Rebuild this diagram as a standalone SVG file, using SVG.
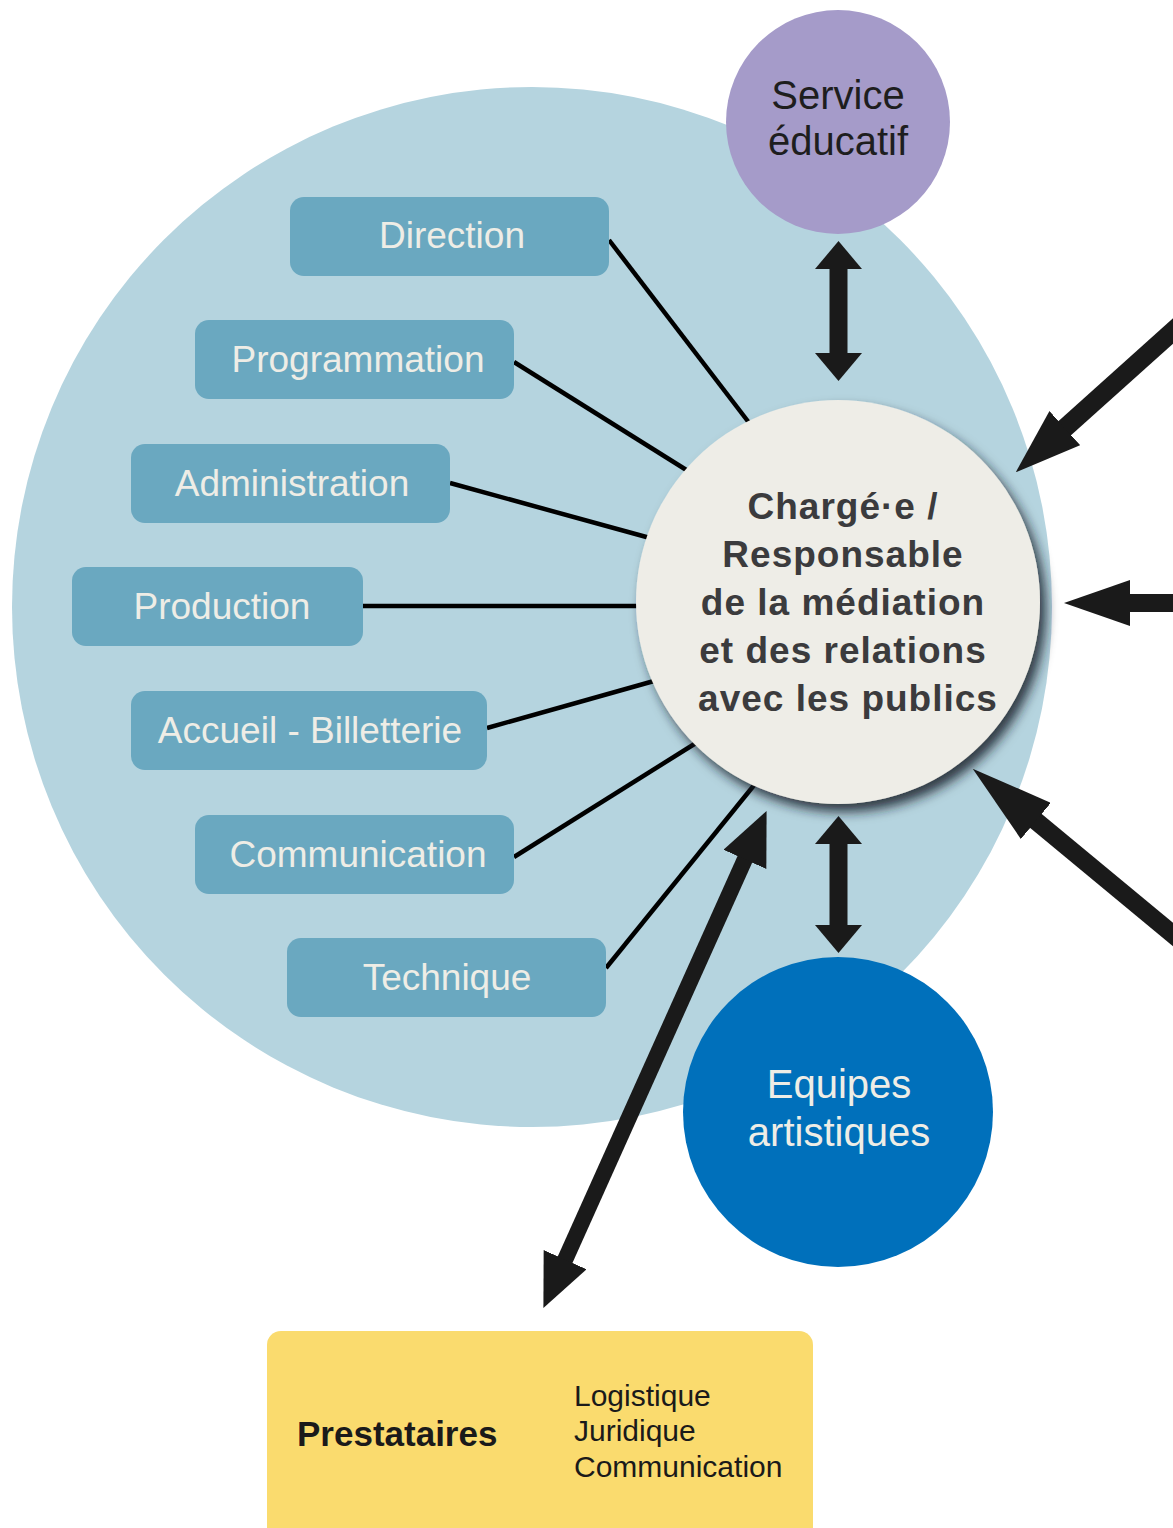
<svg xmlns="http://www.w3.org/2000/svg" width="1173" height="1528" viewBox="0 0 1173 1528">
<style>
.box{fill:#6aa8c0}
.lbl{font-family:"Liberation Sans",Arial,sans-serif;font-size:37px;fill:#eeede6;text-anchor:middle}
.ctr{font-family:"Liberation Sans",Arial,sans-serif;font-size:37px;font-weight:bold;fill:#3b3b3d;text-anchor:middle;letter-spacing:1px}
.big{font-family:"Liberation Sans",Arial,sans-serif;font-size:40px;text-anchor:middle}
.link{stroke:#000;stroke-width:4.5;fill:none}
.arr{stroke:#1a1a1a;fill:none}
.sub{font-family:"Liberation Sans",Arial,sans-serif;font-size:30px;fill:#1a1a1a}
</style>
<defs>
<filter id="sh" x="-20%" y="-20%" width="150%" height="150%">
<feDropShadow dx="6" dy="8" stdDeviation="6" flood-color="#13222b" flood-opacity="0.85"/>
</filter>
<marker id="hS" markerUnits="userSpaceOnUse" viewBox="0 0 28 47" markerWidth="28" markerHeight="47" refX="1" refY="23.5" orient="auto-start-reverse"><path d="M0,0 L28,23.5 L0,47 Z" fill="#1a1a1a"/></marker>
<marker id="hM" markerUnits="userSpaceOnUse" viewBox="0 0 53 47" markerWidth="53" markerHeight="47" refX="1" refY="23.5" orient="auto-start-reverse"><path d="M0,0 L53,23.5 L0,47 Z" fill="#1a1a1a"/></marker>
<marker id="hL" markerUnits="userSpaceOnUse" viewBox="0 0 66 46" markerWidth="66" markerHeight="46" refX="1" refY="23" orient="auto-start-reverse"><path d="M0,0 L66,23 L0,46 Z" fill="#1a1a1a"/></marker>
<marker id="hXL" markerUnits="userSpaceOnUse" viewBox="0 0 82 47" markerWidth="82" markerHeight="47" refX="1" refY="23.5" orient="auto-start-reverse"><path d="M0,0 L82,23.5 L0,47 Z" fill="#1a1a1a"/></marker>
</defs>
<rect width="1173" height="1528" fill="#ffffff"/>

<g id="organisation"><circle cx="532" cy="607" r="520" fill="#b5d4df"/></g>

<g id="service-educatif">
<circle cx="838" cy="122" r="112" fill="#a59bc9"/>
<text class="big" x="838" y="109" fill="#1e1e1e">Service</text>
<text class="big" x="838" y="155" fill="#1e1e1e" font-size="41">éducatif</text>
</g>

<g id="prestataires">
<rect x="267" y="1331" width="546" height="220" rx="14" fill="#fadb6e"/>
<text x="297" y="1446" font-family="'Liberation Sans',Arial,sans-serif" font-size="35" font-weight="bold" fill="#1a1a1a">Prestataires</text>
<text class="sub" x="574" y="1406">Logistique</text>
<text class="sub" x="574" y="1441">Juridique</text>
<text class="sub" x="574" y="1477">Communication</text>
</g>

<g id="connectors">
<line class="link" x1="609" y1="240" x2="750" y2="424"/>
<line class="link" x1="514" y1="362" x2="688" y2="471"/>
<line class="link" x1="450" y1="483" x2="650" y2="538"/>
<line class="link" x1="363" y1="606" x2="640" y2="606"/>
<line class="link" x1="487" y1="728" x2="654" y2="681"/>
<line class="link" x1="514" y1="857" x2="696" y2="743"/>
<line class="link" x1="606" y1="968" x2="755" y2="784"/>
</g>

<g id="direction"><rect class="box" x="290" y="197" width="319" height="79" rx="14"/><text class="lbl" x="452" y="248">Direction</text></g>
<g id="programmation"><rect class="box" x="195" y="320" width="319" height="79" rx="14"/><text class="lbl" x="358" y="372">Programmation</text></g>
<g id="administration"><rect class="box" x="131" y="444" width="319" height="79" rx="14"/><text class="lbl" x="292" y="496">Administration</text></g>
<g id="production"><rect class="box" x="72" y="567" width="291" height="79" rx="14"/><text class="lbl" x="222" y="619">Production</text></g>
<g id="accueil"><rect class="box" x="131" y="691" width="356" height="79" rx="14"/><text class="lbl" x="310" y="743">Accueil - Billetterie</text></g>
<g id="communication"><rect class="box" x="195" y="815" width="319" height="79" rx="14"/><text class="lbl" x="358" y="867">Communication</text></g>
<g id="technique"><rect class="box" x="287" y="938" width="319" height="79" rx="14"/><text class="lbl" x="447" y="990">Technique</text></g>

<g id="equipes-artistiques">
<circle cx="838" cy="1112" r="155" fill="#0070bb"/>
<text class="big" x="839" y="1098" fill="#eeede6" font-size="41">Equipes</text>
<text class="big" x="839" y="1146" fill="#eeede6" font-size="41">artistiques</text>
</g>

<g id="arrows">
<line class="arr" stroke-width="18" x1="838.5" y1="268" x2="838.5" y2="354" marker-start="url(#hS)" marker-end="url(#hS)"/>
<line class="arr" stroke-width="18" x1="838.5" y1="843" x2="838.5" y2="926" marker-start="url(#hS)" marker-end="url(#hS)"/>
<line class="arr" stroke-width="16" x1="745.3" y1="858.4" x2="564.7" y2="1260.6" marker-start="url(#hM)" marker-end="url(#hM)"/>
<line class="arr" stroke-width="19" x1="1190" y1="315.7" x2="1064.1" y2="428.8" marker-end="url(#hL)"/>
<line class="arr" stroke-width="18" x1="1180" y1="603" x2="1129" y2="603" marker-end="url(#hL)"/>
<line class="arr" stroke-width="18" x1="1190" y1="948.6" x2="1035.1" y2="820.3" marker-end="url(#hXL)"/>
</g>

<g id="charge-mediation">
<circle cx="838" cy="602" r="202" fill="#eeede7" filter="url(#sh)"/>
<text class="ctr" x="843" y="519">Chargé·e /</text>
<text class="ctr" x="843" y="567">Responsable</text>
<text class="ctr" x="843" y="615">de la médiation</text>
<text class="ctr" x="843" y="663">et des relations</text>
<text class="ctr" x="848" y="711">avec les publics</text>
</g>
</svg>
